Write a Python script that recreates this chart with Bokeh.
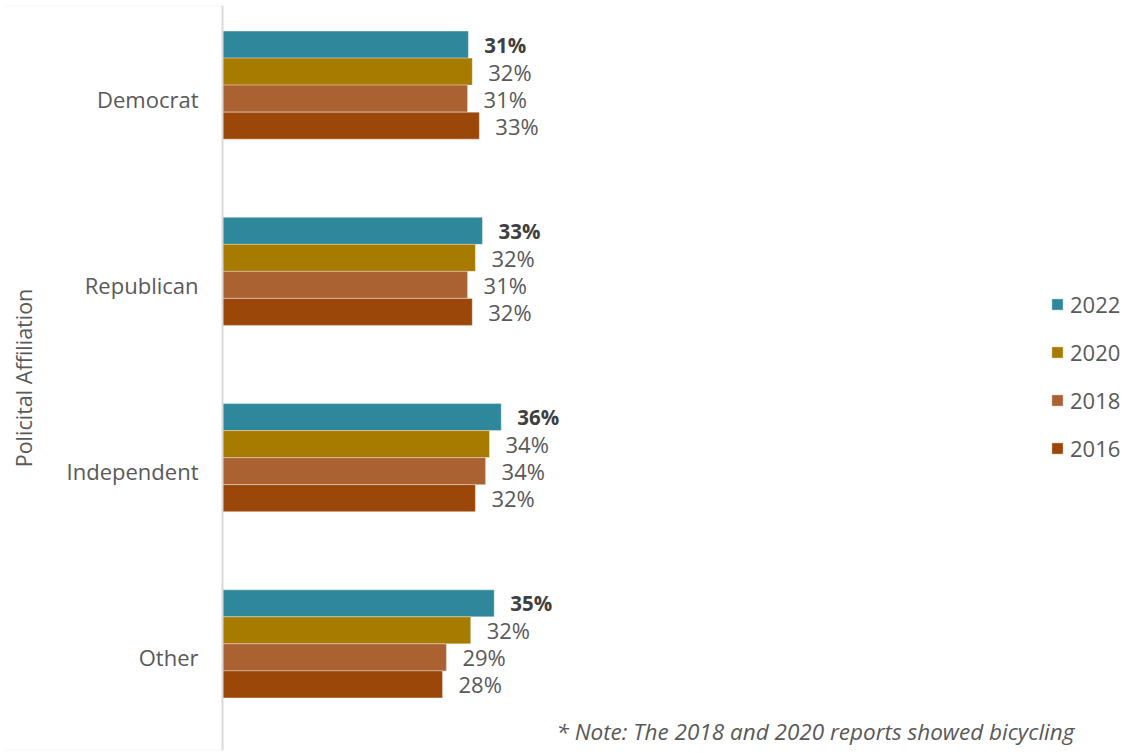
from bokeh.plotting import figure
from bokeh.models import (ColumnDataSource, FactorRange, Range1d, Legend, LegendItem,
                          Label, BoxAnnotation)
from bokeh.transform import dodge
from bokeh.core.properties import value
from bokeh.embed import file_html
from bokeh.resources import INLINE

categories = ["Democrat", "Republican", "Independent", "Other"]
years = ["2022", "2020", "2018", "2016"]
v2022 = [31.4, 33.2, 35.6, 34.7]
v2020 = [31.9, 32.3, 34.1, 31.7]
v2018 = [31.3, 31.3, 33.6, 28.6]
v2016 = [32.8, 31.9, 32.3, 28.1]
colors = ["#2F879B", "#A77B00", "#AA6232", "#9A4709"]
note_lines = ["* Note: The 2018 and 2020 reports showed bicycling",
              "participation rates among respondents with an \u201cother\u201d affiliation"]

series = {"2022": v2022, "2020": v2020, "2018": v2018, "2016": v2016}
data = {"cat": categories}
for y, vals in series.items():
    data["v" + y] = vals
    data["l" + y] = [f"{round(v)}%" for v in vals]
src = ColumnDataSource(data)

FONT = "Open Sans"
GREY = "#595959"
PX_PER_UNIT = 7.83
W, H = 1125, 753
x_start = -222 / PX_PER_UNIT
x_end = (W - 222) / PX_PER_UNIT

p = figure(width=W, height=H, output_backend="svg", toolbar_location=None,
           x_range=Range1d(x_start, x_end),
           y_range=FactorRange(factors=list(reversed(categories)), range_padding=0),
           x_axis_location=None, y_axis_location="left",
           min_border_left=0, min_border_right=0, min_border_top=5, min_border_bottom=3)
p.outline_line_color = None
p.grid.visible = False

ax = p.yaxis[0]
ax.fixed_location = 0
ax.axis_line_color = "#D9D9D9"
ax.axis_line_width = 2
ax.major_tick_line_color = None
ax.minor_tick_line_color = None
ax.major_tick_out = 0
ax.major_tick_in = 0
ax.major_label_standoff = 24
ax.major_label_text_font = FONT
ax.major_label_text_font_size = "22px"
ax.major_label_text_color = GREY
ax.axis_label = "Policital Affiliation"
ax.axis_label_text_font = FONT
ax.axis_label_text_font_size = "21.5px"
ax.axis_label_text_font_style = "normal"
ax.axis_label_text_color = GREY
ax.axis_label_standoff = 26

offsets = [0.29, 0.145, 0.0, -0.145]
bar_h = 0.145
items = []
for yr, off, col in zip(years, offsets, colors):
    ydodge = dodge("cat", off, range=p.y_range)
    r = p.hbar(y=ydodge, left=0, right="v" + yr, height=bar_h, source=src,
               fill_color=col, line_color="white", line_alpha=0.35, line_width=1)
    bold = yr == "2022"
    p.text(x="v" + yr, y=ydodge, text="l" + yr, source=src, x_offset=16,
           text_align="left", text_baseline="middle",
           text_font=value(FONT), text_font_size="20.5px" if bold else "22px",
           text_font_style="bold" if bold else "normal",
           text_color="#404040" if bold else GREY)
    items.append(LegendItem(label=yr, renderers=[r]))

legend = Legend(items=items, location=(1050, 287), orientation="vertical",
                glyph_width=14, glyph_height=14, label_standoff=6, spacing=18,
                padding=0, margin=0, border_line_color=None, background_fill_alpha=0,
                label_text_font=FONT, label_text_font_size="22px", label_text_color=GREY)
p.add_layout(legend, "center")

# decorative box around the category area
p.add_layout(BoxAnnotation(left=5, right=221, bottom=745, top=745, left_units="screen",
                           right_units="screen", bottom_units="screen", top_units="screen",
                           fill_alpha=0, line_color="#D9D9D9", line_width=2))
p.add_layout(BoxAnnotation(left=5, right=221, bottom=0, top=0, left_units="screen",
                           right_units="screen", bottom_units="screen", top_units="screen",
                           fill_alpha=0, line_color="#D9D9D9", line_width=2))

for i, t in enumerate(note_lines):
    p.add_layout(Label(x=556, y=19 - 28 * i, x_units="screen", y_units="screen", text=t,
                       text_font=FONT, text_font_size="22.5px", text_font_style="italic",
                       text_color=GREY, text_baseline="alphabetic"))

open("out.html", "w").write(file_html(p, INLINE))
